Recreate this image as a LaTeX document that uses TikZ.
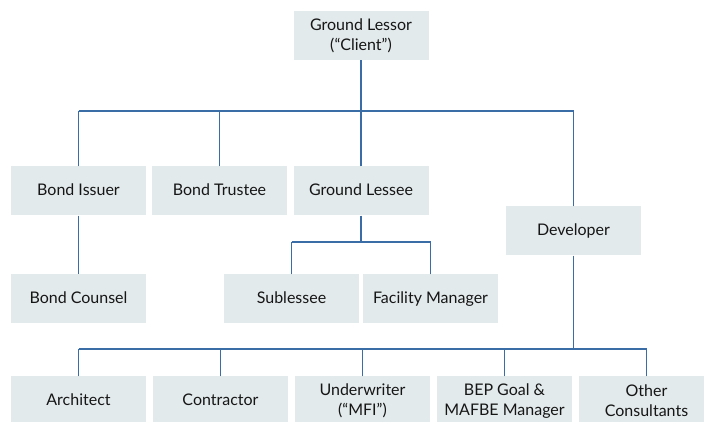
\documentclass[tikz,border=0pt]{standalone}
\usepackage{fontspec}
\setmainfont{Lato}
\usepackage{tikz}
\usetikzlibrary{calc}

\definecolor{boxfill}{HTML}{E3EAEC}
\definecolor{linkblue}{HTML}{3A6CA6}
\definecolor{ink}{HTML}{161616}

\tikzset{
  party/.style={fill=boxfill, text=ink, minimum width=135pt, minimum height=49pt,
    inner sep=0pt, align=center, font=\fontsize{16}{20}\selectfont},
  oneline/.style={party, text height=11.6pt, text depth=3.4pt},
  link/.style={draw=linkblue, line width=1.2pt}
}

\begin{document}
\begin{tikzpicture}[x=1pt,y=1pt]
\useasboundingbox (0,0) rectangle (704,422);
\clip (0,0) rectangle (704,422);

%the parties
    \node[party]   (client)   at (361,386.5) {Ground Lessor\\(``Client'')};
    \node[oneline] (issuer)   at (78.5,231) {Bond Issuer};
    \node[oneline] (trustee)  at (219.5,231) {Bond Trustee};
    \node[oneline] (lessee)   at (361,231) {Ground Lessee};
    \node[oneline] (dev)      at (573.5,191) {Developer};
    \node[oneline] (counsel)  at (78.5,123) {Bond Counsel};
    \node[oneline] (subl)     at (291.5,123) {Sublessee};
    \node[oneline] (facility) at (430.5,123) {Facility Manager};

    \node[oneline] (arch)   at (78.5,21)  {Architect};
    \node[oneline] (contr)  at (220.5,21) {Contractor};
    \node[party]   (mfi)    at (362.5,21) {Underwriter\\(``MFI'')};
    \node[party]   (bep)    at (504.5,21) {BEP Goal \&\\MAFBE Manager};
    \node[party]   (other)  at (646.5,21) {Other\\Consultants};

%the buses
    \coordinate (busA) at (0,311);
    \coordinate (busB) at (0,180);
    \coordinate (busC) at (0,73);

%client to first row
    \draw[link] (client.south) -- (client.south |- busA);
    \draw[link] (issuer.north |- busA) -- (dev.north |- busA);
    \foreach \n in {issuer,trustee,lessee,dev}
        \draw[link] (\n.north) -- (\n.north |- busA);

%bond issuer to counsel
    \draw[link] (issuer.south) -- (counsel.north);

%ground lessee
    \draw[link] (lessee.south) -- (lessee.south |- busB);
    \draw[link] (subl.north |- busB) -- (facility.north |- busB);
    \foreach \n in {subl,facility}
        \draw[link] (\n.north) -- (\n.north |- busB);

%developer team
    \draw[link] (dev.south) -- (dev.south |- busC);
    \draw[link] (arch.north |- busC) -- (other.north |- busC);
    \foreach \n in {arch,contr,mfi,bep,other}
        \draw[link] (\n.north) -- (\n.north |- busC);
\end{tikzpicture}
\end{document}
